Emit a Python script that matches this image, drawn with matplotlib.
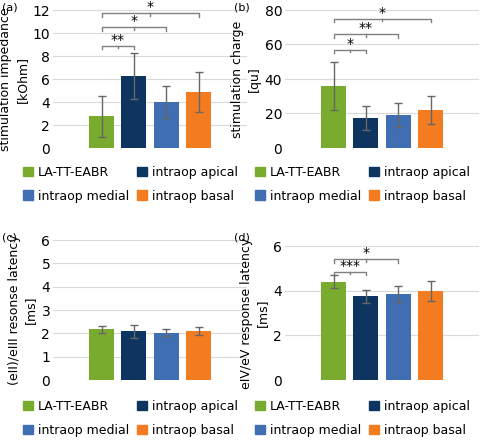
import matplotlib
matplotlib.use("Agg")
import matplotlib.pyplot as plt
from matplotlib.patches import Patch

groups = ["LA-TT-EABR", "intraop apical", "intraop medial", "intraop basal"]
colors = ["#79ab2e", "#0e3560", "#3f6fb2", "#f47c20"]

imp = [2.75, 6.3, 4.0, 4.9]; imp_err = [1.75, 2.0, 1.4, 1.75]
chg = [36.0, 17.5, 19.0, 22.0]; chg_err = [14.0, 7.0, 7.0, 8.0]
lat3 = [2.18, 2.08, 2.03, 2.1]; lat3_err = [0.15, 0.27, 0.15, 0.18]
lat5 = [4.4, 3.75, 3.85, 4.0]; lat5_err = [0.3, 0.3, 0.35, 0.45]

panels = [
    dict(lab="(a)", v=imp, e=imp_err, ylab="stimulation impedance\n[kOhm]", ymax=12, step=2,
         br=[(1, 8.9, "**"), (2, 10.5, "*"), (3, 11.7, "*")], x0=53, top=10, leg=166),
    dict(lab="(b)", v=chg, e=chg_err, ylab="stimulation charge\n[qu]", ymax=80, step=20,
         br=[(1, 57, "*"), (2, 66, "**"), (3, 75, "*")], x0=285, top=10, leg=166),
    dict(lab="(c)", v=lat3, e=lat3_err, ylab="(eII)/eIII resonse latency\n[ms]", ymax=6, step=1,
         br=[], x0=53, top=240, leg=400),
    dict(lab="(d)", v=lat5, e=lat5_err, ylab="eIV/eV response latency\n[ms]", ymax=6, step=2,
         br=[(1, 4.85, "***"), (2, 5.4, "*")], x0=285, top=246, leg=400),
]

W, H = 500, 440
fig = plt.figure(figsize=(5, 4.4), dpi=100)
order = [0, 2, 1, 3]
for p in panels:
    x0, top = p["x0"], p["top"]
    ax = fig.add_axes([x0 / W, 1 - 380 / H if top > 200 else 1 - 148 / H,
                       194 / W, ((380 if top > 200 else 148) - top) / H])
    xs = range(4)
    ax.bar(xs, p["v"], width=0.78, color=colors, zorder=2)
    ax.errorbar(xs, p["v"], yerr=p["e"], fmt="none", ecolor="#666666", elinewidth=1,
                capsize=3, capthick=1, zorder=3)
    ax.set_xlim(-1.5, 4.5)
    ax.set_ylim(0, p["ymax"])
    ax.set_yticks(range(0, p["ymax"] + 1, p["step"]))
    ax.set_xticks([])
    ax.grid(axis="y", color="#d9d9d9", lw=0.8, zorder=0)
    for s in ax.spines.values():
        s.set_visible(False)
    ax.tick_params(axis="y", length=0, labelsize=10, pad=2)
    ax.set_ylabel(p["ylab"], fontsize=9, labelpad=3, linespacing=1.3)
    d = p["ymax"] * 0.025
    for j, y, t in p["br"]:
        ax.plot([0, 0, j, j], [y - d, y, y, y - d], color="#808080", lw=1, clip_on=False)
        ax.plot([j / 2, j / 2], [y, y - d * 0.8], color="#808080", lw=1, clip_on=False)
        ax.text(j / 2, y - d * 0.3, t, ha="center", va="bottom", fontsize=10)
    fig.text((x0 - 51) / W, 1 - (p["top"] - 8 if top < 200 else 232) / H, p["lab"],
             fontsize=8, va="top")
    handles = [Patch(color=colors[i]) for i in order]
    fig.legend(handles, [groups[i] for i in order], loc="upper left", ncol=2, frameon=False,
               fontsize=9, bbox_to_anchor=((x0 - 30) / W, 1 - p["leg"] / H),
               handlelength=0.8, handleheight=0.8, handletextpad=0.4,
               columnspacing=0.6, labelspacing=0.85, borderpad=0, borderaxespad=0)
fig.savefig("out.png", dpi=100)
